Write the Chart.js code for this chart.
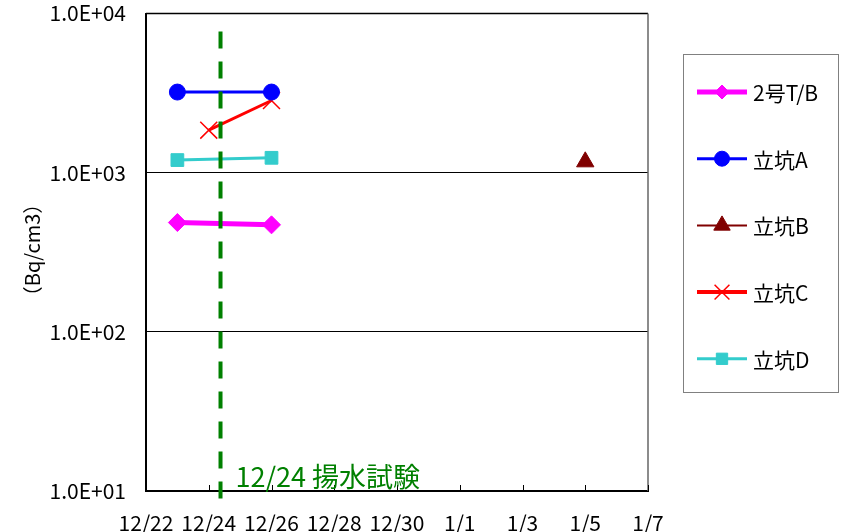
<!DOCTYPE html>
<html>
<head>
<meta charset="utf-8">
<script src="https://cdn.jsdelivr.net/npm/chart.js@4/dist/chart.umd.min.js"></script>
<style>
  html, body { margin: 0; padding: 0; background: #fff; }
  #chart { display: block; }
</style>
</head>
<body>
<canvas id="chart" width="841" height="532"></canvas>
<script>
const startDate = "2012-12-22";
const endDate = "2013-01-07";
const tickLabels = ["12/22", "12/24", "12/26", "12/28", "12/30", "1/1", "1/3", "1/5", "1/7"];
const yTicks = [10, 100, 1000, 10000];

const seriesNames = ["2号T/B", "立坑A", "立坑B", "立坑C", "立坑D"];
const tbDates = ["2012-12-23", "2012-12-26"];
const tbValues = [486, 470];
const shaftADates = ["2012-12-23", "2012-12-26"];
const shaftAValues = [3210, 3210];
const shaftBDates = ["2013-01-05"];
const shaftBValues = [1170];
const shaftCDates = ["2012-12-24", "2012-12-26"];
const shaftCValues = [1850, 2840];
const shaftDDates = ["2012-12-23", "2012-12-26"];
const shaftDValues = [1200, 1240];

const pumpTestDate = "2012-12-24 09";
const pumpTestLabel = "12/24 揚水試験";
const yTitle = "（Bq/cm3）";

const FONT = "'Noto Sans CJK JP', 'Noto Sans', sans-serif";

// days since startDate, "YYYY-MM-DD" with optional " HH"
function dayOf(s) {
  const [date, hour] = s.split(" ");
  const [y, m, d] = date.split("-").map(Number);
  const [y0, m0, d0] = startDate.split("-").map(Number);
  return (Date.UTC(y, m - 1, d, hour ? Number(hour) : 0) - Date.UTC(y0, m0 - 1, d0)) / 86400000;
}

function points(dates, values) {
  return dates.map((d, i) => ({ x: dayOf(d), y: values[i] }));
}

function series(i, dates, values, color, style) {
  return Object.assign({
    label: seriesNames[i],
    data: points(dates, values),
    borderColor: color,
    backgroundColor: color,
    pointBorderColor: color,
    pointBackgroundColor: color,
    tension: 0
  }, style);
}

const datasets = [
  series(0, tbDates, tbValues, "#ff00ff", { borderWidth: 5, pointStyle: "rectRot", pointRadius: 9, pointBorderWidth: 1, legendRadius: 7 }),
  series(1, shaftADates, shaftAValues, "#0000ff", { borderWidth: 3, pointStyle: "circle", pointRadius: 8, pointBorderWidth: 1, legendRadius: 7.5 }),
  series(2, shaftBDates, shaftBValues, "#800000", { borderWidth: 2, pointStyle: "triangle", pointRadius: 10, pointBorderWidth: 1, legendRadius: 9.5 }),
  series(3, shaftCDates, shaftCValues, "#ff0000", { borderWidth: 3, pointStyle: "crossRot", pointRadius: 12, pointBorderWidth: 1.5, legendRadius: 10.5, legendLine: 4 }),
  series(4, shaftDDates, shaftDValues, "#33cccc", { borderWidth: 3, pointStyle: "rect", pointRadius: 9, pointBorderWidth: 1, legendRadius: 8 })
];

// frame, inner x ticks, pumping test marker, y title and legend box
const decorations = {
  id: "decorations",
  beforeDatasetsDraw(chart) {
    const { ctx, chartArea: a, scales } = chart;
    ctx.save();
    ctx.strokeStyle = "#000";
    ctx.lineWidth = 1.5;
    ctx.beginPath();
    ctx.moveTo(a.left, a.top);
    ctx.lineTo(a.right, a.top);
    ctx.stroke();
    ctx.strokeStyle = "#666";
    ctx.beginPath();
    ctx.moveTo(a.right, a.top);
    ctx.lineTo(a.right, a.bottom);
    ctx.stroke();
    ctx.strokeStyle = "#000";
    ctx.lineWidth = 1;
    scales.x.ticks.forEach(t => {
      const x = Math.round(scales.x.getPixelForValue(t.value)) + 0.5;
      ctx.beginPath();
      ctx.moveTo(x, a.bottom - 6);
      ctx.lineTo(x, a.bottom);
      ctx.stroke();
    });
    ctx.restore();
  },
  afterDatasetsDraw(chart) {
    const { ctx, chartArea: a, scales } = chart;
    ctx.save();
    const x = scales.x.getPixelForValue(dayOf(pumpTestDate));
    ctx.strokeStyle = "#008000";
    ctx.lineWidth = 4;
    ctx.setLineDash([17, 13]);
    ctx.beginPath();
    ctx.moveTo(x, a.top + 18);
    ctx.lineTo(x, a.bottom + 9);
    ctx.stroke();
    ctx.setLineDash([]);

    ctx.fillStyle = "#008000";
    ctx.font = "27px " + FONT;
    ctx.textBaseline = "alphabetic";
    ctx.fillText(pumpTestLabel, x + 15, a.bottom - 4);

    ctx.fillStyle = "#000";
    ctx.font = "20px " + FONT;
    ctx.textAlign = "center";
    ctx.textBaseline = "middle";
    ctx.translate(32, 250);
    ctx.rotate(-Math.PI / 2);
    ctx.fillText(yTitle, 0, 0);
    ctx.restore();

    // legend
    ctx.save();
    const box = { left: 683.5, top: 54.5, right: 838.5, bottom: 392.5 };
    ctx.strokeStyle = "#808080";
    ctx.lineWidth = 1;
    ctx.strokeRect(box.left, box.top, box.right - box.left, box.bottom - box.top);
    chart.data.datasets.forEach((ds, i) => {
      const y = 92 + i * 66.7;
      ctx.strokeStyle = ds.borderColor;
      ctx.lineWidth = ds.legendLine || ds.borderWidth;
      ctx.beginPath();
      ctx.moveTo(697, y);
      ctx.lineTo(747, y);
      ctx.stroke();
      ctx.fillStyle = ds.pointBackgroundColor;
      ctx.lineWidth = ds.pointBorderWidth;
      Chart.helpers.drawPoint(ctx, {
        pointStyle: ds.pointStyle,
        radius: ds.legendRadius,
        borderWidth: ds.pointBorderWidth,
        rotation: 0
      }, 722, y);
      ctx.fillStyle = "#000";
      ctx.font = "21px " + FONT;
      ctx.textAlign = "left";
      ctx.textBaseline = "middle";
      ctx.fillText(ds.label, 753, y + 1);
    });
    ctx.restore();
  }
};

new Chart(document.getElementById("chart"), {
  type: "line",
  data: { datasets },
  plugins: [decorations],
  options: {
    responsive: false,
    animation: false,
    layout: { padding: { left: 0, top: 12, right: 193, bottom: 0 } },
    plugins: {
      legend: { display: false },
      tooltip: { enabled: false }
    },
    scales: {
      x: {
        type: "linear",
        min: 0,
        max: dayOf(endDate),
        afterFit: s => { s.height = 41; },
        grid: { display: false, drawTicks: false },
        border: { display: true, color: "#000", width: 2 },
        ticks: {
          stepSize: 2,
          autoSkip: false,
          maxRotation: 0,
          padding: 19,
          color: "#000",
          font: { family: FONT, size: 21 },
          callback: v => tickLabels[v / 2]
        }
      },
      y: {
        type: "logarithmic",
        min: yTicks[0],
        max: yTicks[yTicks.length - 1],
        afterFit: s => { s.width = 146; },
        afterBuildTicks: s => { s.ticks = yTicks.map(v => ({ value: v })); },
        // tick marks kept invisible so they only push the labels left
        grid: { color: "#000", lineWidth: 1, drawTicks: true, tickLength: 20, tickColor: "rgba(0,0,0,0)" },
        border: { display: true, color: "#000", width: 2 },
        ticks: {
          padding: 0,
          color: "#000",
          font: { family: FONT, size: 21 },
          callback: v => "1.0E+" + String(Math.round(Math.log10(v))).padStart(2, "0")
        }
      }
    }
  }
});
</script>
</body>
</html>
